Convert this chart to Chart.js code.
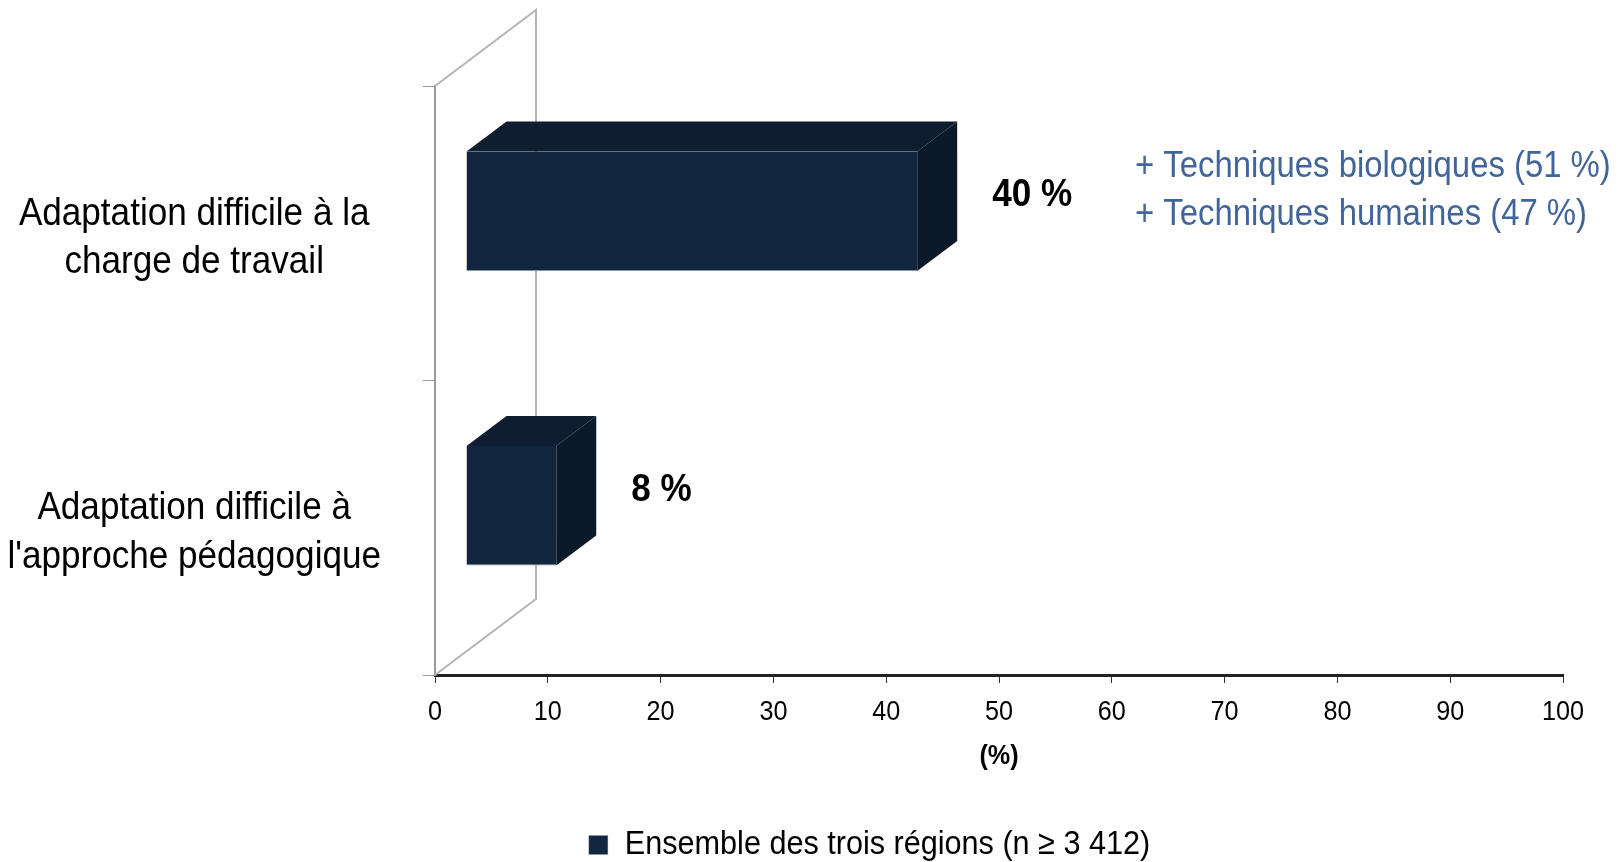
<!DOCTYPE html>
<html><head><meta charset="utf-8">
<script src="https://cdn.jsdelivr.net/npm/chart.js@4.4.0/dist/chart.umd.min.js"></script>
<style>html,body{margin:0;padding:0;background:#fff;overflow:hidden}#wrap{width:1621px;height:862px;position:relative}</style>
</head><body><div id="wrap"><canvas id="c"></canvas></div>
<script>
// ---- data ----
const categories = [["Adaptation difficile à la", "charge de travail"], ["Adaptation difficile à", "l'approche pédagogique"]];
const seriesName = "Ensemble des trois régions (n ≥ 3 412)";
const values = [40, 8];
const valueLabels = ["40 %", "8 %"];
const xTicks = [0, 10, 20, 30, 40, 50, 60, 70, 80, 90, 100];
const xTitle = "(%)";
const noteLines = ["+ Techniques biologiques (51 %)", "+ Techniques humaines (47 %)"];

// ---- styles ----
const FONT = "'Liberation Sans', Arial, sans-serif";
const NARROW = 0.9;               // horizontal squeeze of all text (narrow face)
const FRONT = '#132640', TOP = '#0f1d31', SIDE = '#0c1929';
const SHIFT = {x: 31, y: -22};    // bar pushed back into depth
const DEPTH = {x: 40, y: -30};    // bar thickness in depth
const WALL = {x: 101, y: -76};    // full depth of the floor / wall

Chart.defaults.color = '#000';
Chart.defaults.font.family = FONT;

const canvas = document.getElementById('c');
const g = canvas.getContext('2d');
const origFill = g.fillText.bind(g);
const origMeasure = g.measureText.bind(g);
g.fillText = function (t, x, y, mw) {
  this.save();
  this.translate(x, y);
  this.scale(NARROW, 1);
  if (mw === undefined || mw === null) origFill(t, 0, 0); else origFill(t, 0, 0, mw / NARROW);
  this.restore();
};
g.measureText = function (t) {
  const m = origMeasure(t);
  return {
    width: m.width * NARROW,
    actualBoundingBoxAscent: m.actualBoundingBoxAscent,
    actualBoundingBoxDescent: m.actualBoundingBoxDescent,
    actualBoundingBoxLeft: m.actualBoundingBoxLeft * NARROW,
    actualBoundingBoxRight: m.actualBoundingBoxRight * NARROW,
    fontBoundingBoxAscent: m.fontBoundingBoxAscent,
    fontBoundingBoxDescent: m.fontBoundingBoxDescent
  };
};

const threeD = {
  id: 'threeD',
  afterLayout(chart) {
    if (chart.legend) { chart.legend.left += 88; chart.legend.right += 88; }
  },
  beforeDatasetsDraw(chart) {
    const {ctx, chartArea: a} = chart;
    ctx.save();
    ctx.strokeStyle = '#b4b4b4';
    ctx.lineWidth = 2;
    ctx.beginPath();
    ctx.moveTo(a.left, a.top); ctx.lineTo(a.left + WALL.x, a.top + WALL.y);
    ctx.lineTo(a.left + WALL.x, a.bottom + WALL.y); ctx.lineTo(a.left, a.bottom);
    ctx.stroke();
    ctx.restore();
    ctx.save();
    ctx.translate(SHIFT.x, SHIFT.y);
  },
  afterDatasetsDraw(chart) {
    const {ctx} = chart;
    ctx.restore();
    const meta = chart.getDatasetMeta(0);
    meta.data.forEach((bar, i) => {
      const p = bar.getProps(['x', 'y', 'base', 'height'], true);
      const x0 = p.base + SHIFT.x, x1 = p.x + SHIFT.x;
      const y0 = p.y - p.height / 2 + SHIFT.y, y1 = p.y + p.height / 2 + SHIFT.y;
      ctx.save();
      ctx.fillStyle = TOP;
      ctx.beginPath();
      ctx.moveTo(x0, y0); ctx.lineTo(x0 + DEPTH.x, y0 + DEPTH.y);
      ctx.lineTo(x1 + DEPTH.x, y0 + DEPTH.y); ctx.lineTo(x1, y0); ctx.closePath(); ctx.fill();
      ctx.fillStyle = SIDE;
      ctx.beginPath();
      ctx.moveTo(x1, y0); ctx.lineTo(x1 + DEPTH.x, y0 + DEPTH.y);
      ctx.lineTo(x1 + DEPTH.x, y1 + DEPTH.y); ctx.lineTo(x1, y1); ctx.closePath(); ctx.fill();
      const cy = (y0 + y1) / 2;
      ctx.fillStyle = '#000';
      ctx.font = 'bold 39px ' + FONT;
      ctx.textAlign = 'left'; ctx.textBaseline = 'middle';
      ctx.fillText(valueLabels[i], x1 + DEPTH.x + 35, cy - 16);
      if (i === 0) {
        ctx.fillStyle = '#41659a';
        ctx.font = '36.5px ' + FONT;
        noteLines.forEach((t, k) => ctx.fillText(t, chart.chartArea.left + 700, cy + 4 - 48 * (noteLines.length - 1 - k)));
      }
      ctx.restore();
    });
  }
};

new Chart(canvas, {
  type: 'bar',
  data: {
    labels: categories,
    datasets: [{label: seriesName, data: values, backgroundColor: FRONT,
                borderColor: '#8a939e', borderWidth: {top: 0, right: 0, bottom: 1, left: 0}, borderSkipped: false,
                barPercentage: 0.405, categoryPercentage: 1}]
  },
  options: {
    indexAxis: 'y',
    responsive: true, maintainAspectRatio: false, animation: false,
    layout: {padding: {left: 0, right: 58, top: 86, bottom: -10}},
    plugins: {
      tooltip: {enabled: false},
      legend: {position: 'bottom', labels: {font: {size: 34, family: FONT}, boxWidth: 19, boxHeight: 19, padding: 10, color: '#000'}}
    },
    scales: {
      x: {
        min: xTicks[0], max: xTicks[xTicks.length - 1],
        ticks: {stepSize: xTicks[1] - xTicks[0], font: {size: 28}, padding: 12, color: '#000'},
        grid: {drawOnChartArea: false, drawTicks: true, tickLength: 8, color: '#333'},
        border: {display: true, color: '#222', width: 3},
        title: {display: true, text: xTitle, font: {size: 28, weight: 'bold'}, padding: {top: 0, bottom: 45}, color: '#000'},
        afterFit(s) { s.height = 143; s.paddingLeft = 0; s.paddingRight = 0; }
      },
      y: {
        ticks: {font: {size: 39, lineHeight: 1.231}, crossAlign: 'center', padding: 42, labelOffset: 5, color: '#000'},
        grid: {drawOnChartArea: false, drawTicks: true, tickLength: 12, color: '#999', offset: true},
        border: {display: true, color: '#9a9a9a', width: 2},
        afterFit(s) { s.width = 435; s.paddingTop = 0; s.paddingBottom = 0; }
      }
    }
  },
  plugins: [threeD]
});
</script></body></html>
